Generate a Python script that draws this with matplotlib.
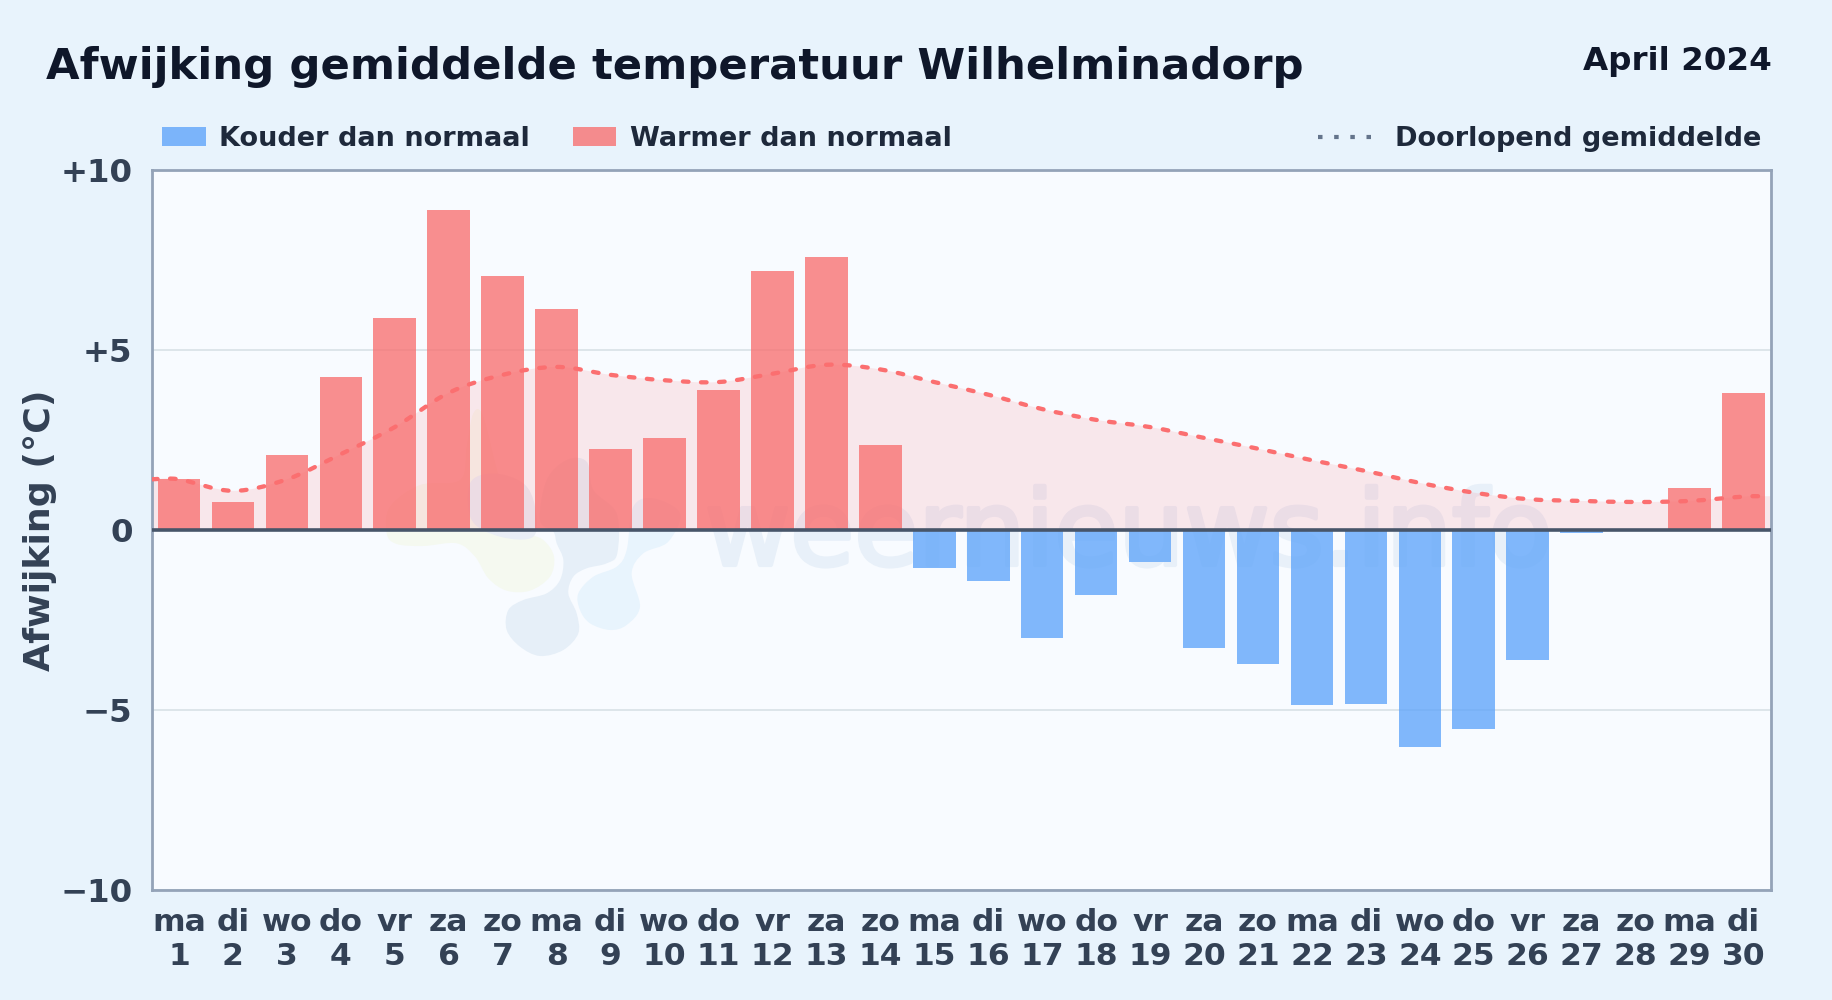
import matplotlib
matplotlib.use('Agg')
import matplotlib.pyplot as plt
import matplotlib.patheffects as pe
from matplotlib.patches import Rectangle, PathPatch
from matplotlib.path import Path
from matplotlib.lines import Line2D

W, H = 1832, 1000

# data
weekdays = ['ma', 'di', 'wo', 'do', 'vr', 'za', 'zo'] * 4 + ['ma', 'di']
days = list(range(1, 31))
deviation = [1.41, 0.76, 2.07, 4.25, 5.87, 8.87, 7.03, 6.13, 2.25, 2.54,
             3.87, 7.18, 7.57, 2.35, -1.05, -1.41, -3.0, -1.82, -0.89, -3.27,
             -3.73, -4.86, -4.83, -6.03, -5.53, -3.61, -0.08, 0.0, 1.15, 3.79]
avg_days = [0.5] + days + [30.5]
running_avg = [1.4, 1.4, 1.08, 1.4, 2.1, 2.85, 3.8, 4.3, 4.52, 4.3, 4.15,
               4.1, 4.33, 4.58, 4.45, 4.1, 3.75, 3.35, 3.05, 2.85, 2.55,
               2.25, 1.93, 1.63, 1.3, 1.03, 0.85, 0.8, 0.77, 0.8, 0.92, 0.93]
y_ticks = [-10, -5, 0, 5, 10]
y_labels = ['\u221210', '\u22125', '0', '+5', '+10']

BG = '#e8f3fc'
PLOT_BG = '#f8fbff'
RED = '#f87171'
BLUE = '#60a5fa'

# outlines of the faint logo, in pixels of a crop starting at (360, 380), 3x
logo_green = [(80, 460), (110, 492), (190, 498), (290, 490), (345, 530), (385, 595), (440, 632), (510, 632),
              (570, 590), (582, 530), (550, 480), (480, 440), (420, 300), (370, 110), (340, 100), (320, 200),
              (300, 300), (180, 315), (90, 380)]
logo_blue = [(580, 455), (540, 420), (560, 300), (620, 240), (680, 245), (700, 330), (770, 400), (772, 520),
             (740, 550), (680, 565), (640, 590), (625, 640), (650, 700), (655, 760), (610, 810), (540, 828),
             (480, 800), (440, 750), (445, 690), (490, 660), (560, 640), (600, 600), (610, 540), (590, 490)]
logo_sky = [(655, 640), (700, 590), (770, 560), (800, 510), (820, 380), (880, 355), (960, 400), (925, 485),
            (850, 520), (815, 580), (840, 680), (800, 735), (750, 750), (690, 730), (660, 690)]
logo_grey = [(330, 310), (400, 280), (490, 310), (525, 380), (520, 470), (420, 470), (335, 420)]


def fx(x):
    return x / W


def fy(y):
    return 1 - y / H


def smooth_path(xs, ys, close_at=None):
    # catmull-rom through the daily values, as bezier segments
    verts = [(xs[0], ys[0])]
    codes = [Path.MOVETO]
    n = len(xs)
    for i in range(n - 1):
        x0, y0 = xs[max(i - 1, 0)], ys[max(i - 1, 0)]
        x1, y1 = xs[i], ys[i]
        x2, y2 = xs[i + 1], ys[i + 1]
        x3, y3 = xs[min(i + 2, n - 1)], ys[min(i + 2, n - 1)]
        verts += [(x1 + (x2 - x0) / 6, y1 + (y2 - y0) / 6),
                  (x2 - (x3 - x1) / 6, y2 - (y3 - y1) / 6),
                  (x2, y2)]
        codes += [Path.CURVE4] * 3
    if close_at is not None:
        verts += [(xs[-1], close_at), (xs[0], close_at), (xs[0], ys[0])]
        codes += [Path.LINETO, Path.LINETO, Path.CLOSEPOLY]
    return Path(verts, codes)


def blob(ax, points, color):
    pts = [(fx(360 + x / 3), fy(380 + y / 3)) for x, y in points]
    pts = pts[-1:] + pts + pts[:2]
    xs = [p[0] for p in pts]
    ys = [p[1] for p in pts]
    full = smooth_path(xs, ys)
    # drop the wrap-around pieces so the ends meet
    path = Path(full.vertices[3:-3], [Path.MOVETO] + list(full.codes[4:-3]))
    ax.add_patch(PathPatch(path, transform=fig.transFigure, facecolor=color, lw=0, zorder=0.5))


plt.rcParams['font.family'] = 'DejaVu Sans'
plt.rcParams['font.weight'] = 'bold'

fig = plt.figure(figsize=(W / 100, H / 100), dpi=100, facecolor=BG)
ax = fig.add_axes([fx(152), fy(890), (1770.5 - 152) / W, (890 - 169.5) / H], facecolor=PLOT_BG)
ax.set_xlim(0.5, 30.5)
ax.set_ylim(-10, 10)

# watermark, sits behind everything
blob(ax, logo_green, '#f5f9f0')
blob(ax, logo_blue, '#e6eff8')
blob(ax, logo_sky, '#e8f4fd')
blob(ax, logo_grey, '#e9eef6')
ax.text(fx(705), fy(565), 'weernieuws.info', transform=fig.transFigure, fontsize=75, color='#e8f0f9',
        ha='left', va='baseline', fontweight='normal', zorder=0.6,
        path_effects=[pe.withStroke(linewidth=3, foreground='#e8f0f9')])

ax.yaxis.grid(True, color='#dde5ea', lw=1.4)
ax.set_axisbelow(True)

# running mean with its fill
ax.add_patch(PathPatch(smooth_path(avg_days, running_avg, close_at=0), facecolor='#ff7078', alpha=0.14, lw=0, zorder=1))

colors = [RED if v >= 0 else BLUE for v in deviation]
ax.bar(days, deviation, width=0.79, color=colors, alpha=0.79, zorder=2)

ax.add_patch(PathPatch(smooth_path(avg_days, running_avg), fill=False, edgecolor='#fb6f70', lw=3.1,
                       linestyle=(0, (1.3, 2.9)), capstyle='round', zorder=3))
ax.axhline(0, color='#475569', lw=2.6, zorder=4)

for s in ax.spines.values():
    s.set_color('#94a3b8')
    s.set_linewidth(2)

ax.set_xticks(days)
ax.set_xticklabels([f'{d}\n{n}' for d, n in zip(weekdays, days)], fontsize=22.6, color='#334155', linespacing=1.2)
ax.set_yticks(y_ticks)
ax.set_yticklabels(y_labels, fontsize=23.3, color='#334155')
ax.tick_params(length=0, pad=14)
ax.tick_params(axis='x', pad=13)

fig.text(fx(40), fy(530), 'Afwijking (°C)', rotation=90, fontsize=26.2, color='#334155', ha='center', va='center')

# title
fig.text(fx(46), fy(79), 'Afwijking gemiddelde temperatuur Wilhelminadorp', fontsize=31.2, color='#0f172a', ha='left', va='baseline')
fig.text(fx(1772), fy(70), 'April 2024', fontsize=23.4, color='#0f172a', ha='right', va='baseline')

# legend by hand
fig.add_artist(Rectangle((fx(162), fy(146)), 44 / W, 19 / H, transform=fig.transFigure, color=BLUE, alpha=0.8, lw=0))
fig.text(fx(219), fy(146), 'Kouder dan normaal', fontsize=19.5, color='#1e293b', ha='left', va='baseline')
fig.add_artist(Rectangle((fx(573), fy(146)), 43 / W, 19 / H, transform=fig.transFigure, color=RED, alpha=0.8, lw=0))
fig.text(fx(630), fy(146), 'Warmer dan normaal', fontsize=19.5, color='#1e293b', ha='left', va='baseline')
fig.add_artist(Line2D([fx(1318), fx(1374)], [fy(137), fy(137)], transform=fig.transFigure, color='#64748b', lw=3,
                      linestyle=(0, (1.08, 2.8)), dash_capstyle='butt'))
fig.text(fx(1395), fy(146), 'Doorlopend gemiddelde', fontsize=19.5, color='#1e293b', ha='left', va='baseline')

fig.savefig('out.png', dpi=100, facecolor=BG)
